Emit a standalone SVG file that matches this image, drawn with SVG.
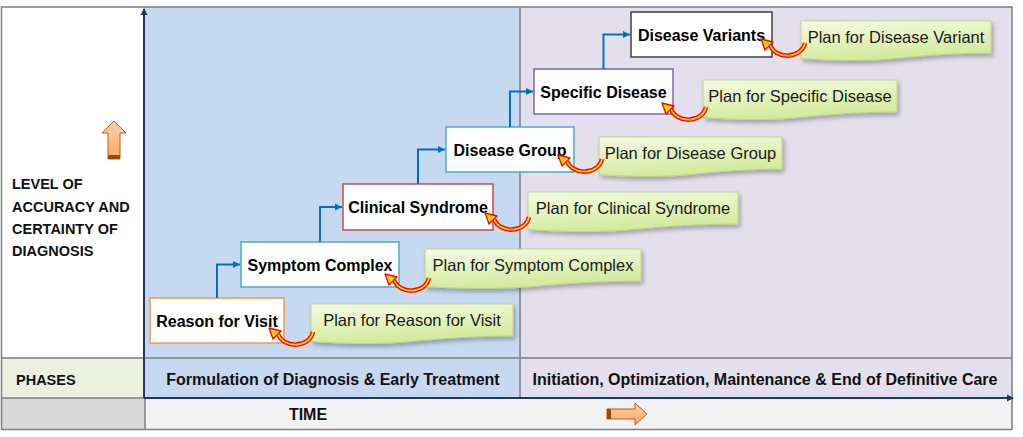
<svg xmlns="http://www.w3.org/2000/svg" width="1023" height="437" viewBox="0 0 1023 437">
<defs>
<style>
text{font-family:'Liberation Sans',Arial,sans-serif;}
.node rect{fill:#fff;stroke-width:1.5}
.nl{font-size:16px;font-weight:bold;fill:#000;text-anchor:middle}
.plan path{fill:url(#pg);stroke:#bcd58a;stroke-width:1;filter:url(#sh)}
.pl{font-size:16.5px;fill:#1a1a1a;text-anchor:middle}
.conn{fill:none;stroke:#0070c0;stroke-width:2;marker-end:url(#ah)}
.ca1{fill:none;stroke:#ff0000;stroke-width:4.5}
.ca2{fill:none;stroke:#ffd200;stroke-width:1.8}
.cah{fill:#ffd200;stroke:#ff0000;stroke-width:1.3;stroke-linejoin:round}
.hdr{font-size:14.5px;font-weight:bold;fill:#111}
.ph{font-size:16px;font-weight:bold;fill:#111;text-anchor:middle}
.grid{stroke:#7f7f7f;stroke-width:1.5;fill:none}
.axis{stroke:#203864;stroke-width:2;fill:none;marker-end:url(#axh)}
.oarrow{fill:url(#og);stroke:#c55a11;stroke-width:1}
</style>
<linearGradient id="pg" x1="0" y1="0" x2="0.3" y2="1"><stop offset="0" stop-color="#f6fbe4"/><stop offset="1" stop-color="#d3ea9a"/></linearGradient>
<linearGradient id="og" x1="0" y1="0" x2="0" y2="1"><stop offset="0" stop-color="#fcd0a8"/><stop offset="1" stop-color="#f7ab6e"/></linearGradient>
<filter id="sh" x="-10%" y="-20%" width="130%" height="170%"><feDropShadow dx="2" dy="3" stdDeviation="2" flood-color="#000" flood-opacity="0.28"/></filter>
<marker id="ah" markerUnits="userSpaceOnUse" markerWidth="8" markerHeight="8" refX="7" refY="4" orient="auto"><path d="M0,0.5 L7,4 L0,7.5z" fill="#0070c0"/></marker>
<marker id="axh" markerUnits="userSpaceOnUse" markerWidth="8" markerHeight="8" refX="6" refY="4" orient="auto"><path d="M0,0.5 L7,4 L0,7.5z" fill="#203864"/></marker>
</defs>

<g id="background">
<rect x="1" y="7" width="143" height="351" fill="#ffffff"/>
<rect x="144" y="7" width="376" height="391" fill="#c6d9f0"/>
<rect x="520" y="7" width="492" height="391" fill="#e4dfec"/>
<rect x="1" y="358" width="143" height="40" fill="#ebf1de"/>
<rect x="1" y="398" width="144" height="32" fill="#d9d9d9"/>
<rect x="145" y="398" width="867" height="32" fill="#f2f2f2"/>
<path class="grid" d="M1.5,7 H1012 V429.5 H1.5 Z"/>
<path class="grid" d="M1.5,358 H1012 M520,7 V398 M1.5,398 H144 M145,398 V430"/>
<path class="axis" d="M144,398 V9"/>
<path class="axis" d="M144,398 H1013"/>
</g>

<g id="left-labels">
<text class="hdr" x="12" y="189">LEVEL OF</text>
<text class="hdr" x="12" y="212">ACCURACY AND</text>
<text class="hdr" x="12" y="234">CERTAINTY OF</text>
<text class="hdr" x="12" y="256">DIAGNOSIS</text>
<polygon class="oarrow" points="114,121 126,133 120,133 120,159 108,159 108,133 102,133"/>
<rect x="108" y="155" width="12" height="4" fill="#984807"/>
<text class="hdr" x="16" y="385">PHASES</text>
</g>

<g id="phases">
<text class="ph" x="333" y="385">Formulation of Diagnosis &amp; Early Treatment</text>
<text class="ph" x="765" y="385">Initiation, Optimization, Maintenance &amp; End of Definitive Care</text>
</g>

<g id="time">
<text class="ph" x="308" y="420">TIME</text>
<polygon class="oarrow" points="647,414 635,403 635,409 607,409 607,419 635,419 635,425"/>
<rect x="607" y="409" width="4" height="10" fill="#984807"/>
</g>

<g id="node-reason" class="node"><rect x="150" y="298" width="134" height="45" stroke="#f79646"/><text class="nl" x="217" y="326.5">Reason for Visit</text></g>
<g id="node-symptom" class="node"><rect x="241" y="242" width="158" height="45" stroke="#4bacc6"/><text class="nl" x="320" y="270.5">Symptom Complex</text></g>
<g id="node-clinical" class="node"><rect x="343" y="184" width="150" height="46" stroke="#c0504d"/><text class="nl" x="418" y="213">Clinical Syndrome</text></g>
<g id="node-group" class="node"><rect x="446" y="127" width="128" height="45" stroke="#4bacc6"/><text class="nl" x="510" y="155.5">Disease Group</text></g>
<g id="node-specific" class="node"><rect x="534" y="69" width="139" height="45" stroke="#8064a2"/><text class="nl" x="603.5" y="97.5">Specific Disease</text></g>
<g id="node-variants" class="node"><rect x="631" y="12" width="141" height="45" stroke="#404040"/><text class="nl" x="701.5" y="40.5">Disease Variants</text></g>

<g id="plan-reason" class="plan"><path d="M311,304 H513 V336.1 C412,336.1 412,348.3 311,341.4 Z"/><text class="pl" x="412" y="326">Plan for Reason for Visit</text></g>
<g id="plan-symptom" class="plan"><path d="M425,249 H641 V281.1 C533,281.1 533,293.3 425,286.4 Z"/><text class="pl" x="533" y="271">Plan for Symptom Complex</text></g>
<g id="plan-clinical" class="plan"><path d="M528,192 H738 V224.1 C633,224.1 633,236.3 528,229.4 Z"/><text class="pl" x="633" y="214">Plan for Clinical Syndrome</text></g>
<g id="plan-group" class="plan"><path d="M599,137 H782 V169.1 C690.5,169.1 690.5,181.3 599,174.4 Z"/><text class="pl" x="690.5" y="159">Plan for Disease Group</text></g>
<g id="plan-specific" class="plan"><path d="M703,80 H897 V112.1 C800,112.1 800,124.3 703,117.4 Z"/><text class="pl" x="800" y="102">Plan for Specific Disease</text></g>
<g id="plan-variant" class="plan"><path d="M801,21 H991 V53.1 C896,53.1 896,65.3 801,58.4 Z"/><text class="pl" x="896" y="43">Plan for Disease Variant</text></g>

<g id="connectors">
<path class="conn" d="M217,298 V264.5 H240"/>
<path class="conn" d="M320,242 V207 H342"/>
<path class="conn" d="M418,184 V149.5 H445"/>
<path class="conn" d="M510,127 V91.5 H533"/>
<path class="conn" d="M603.5,69 V34.5 H630"/>
<g id="curved-arrows">
<g transform="translate(313,332)"><path class="ca1" d="M0,0 A18 15 0 0 1 -35,2"/><path class="ca2" d="M0,0 A18 15 0 0 1 -35,2"/><polygon class="cah" points="-44,-4 -32,-1 -40,7"/></g>
<g transform="translate(429,278)"><path class="ca1" d="M0,0 A18 15 0 0 1 -35,2"/><path class="ca2" d="M0,0 A18 15 0 0 1 -35,2"/><polygon class="cah" points="-44,-4 -32,-1 -40,7"/></g>
<g transform="translate(529,217)"><path class="ca1" d="M0,0 A18 15 0 0 1 -35,2"/><path class="ca2" d="M0,0 A18 15 0 0 1 -35,2"/><polygon class="cah" points="-44,-4 -32,-1 -40,7"/></g>
<g transform="translate(602,159)"><path class="ca1" d="M0,0 A18 15 0 0 1 -35,2"/><path class="ca2" d="M0,0 A18 15 0 0 1 -35,2"/><polygon class="cah" points="-44,-4 -32,-1 -40,7"/></g>
<g transform="translate(706,107)"><path class="ca1" d="M0,0 A18 15 0 0 1 -35,2"/><path class="ca2" d="M0,0 A18 15 0 0 1 -35,2"/><polygon class="cah" points="-44,-4 -32,-1 -40,7"/></g>
<g transform="translate(805,43)"><path class="ca1" d="M0,0 A18 15 0 0 1 -35,2"/><path class="ca2" d="M0,0 A18 15 0 0 1 -35,2"/><polygon class="cah" points="-44,-4 -32,-1 -40,7"/></g>
</g>
</g>
</svg>
